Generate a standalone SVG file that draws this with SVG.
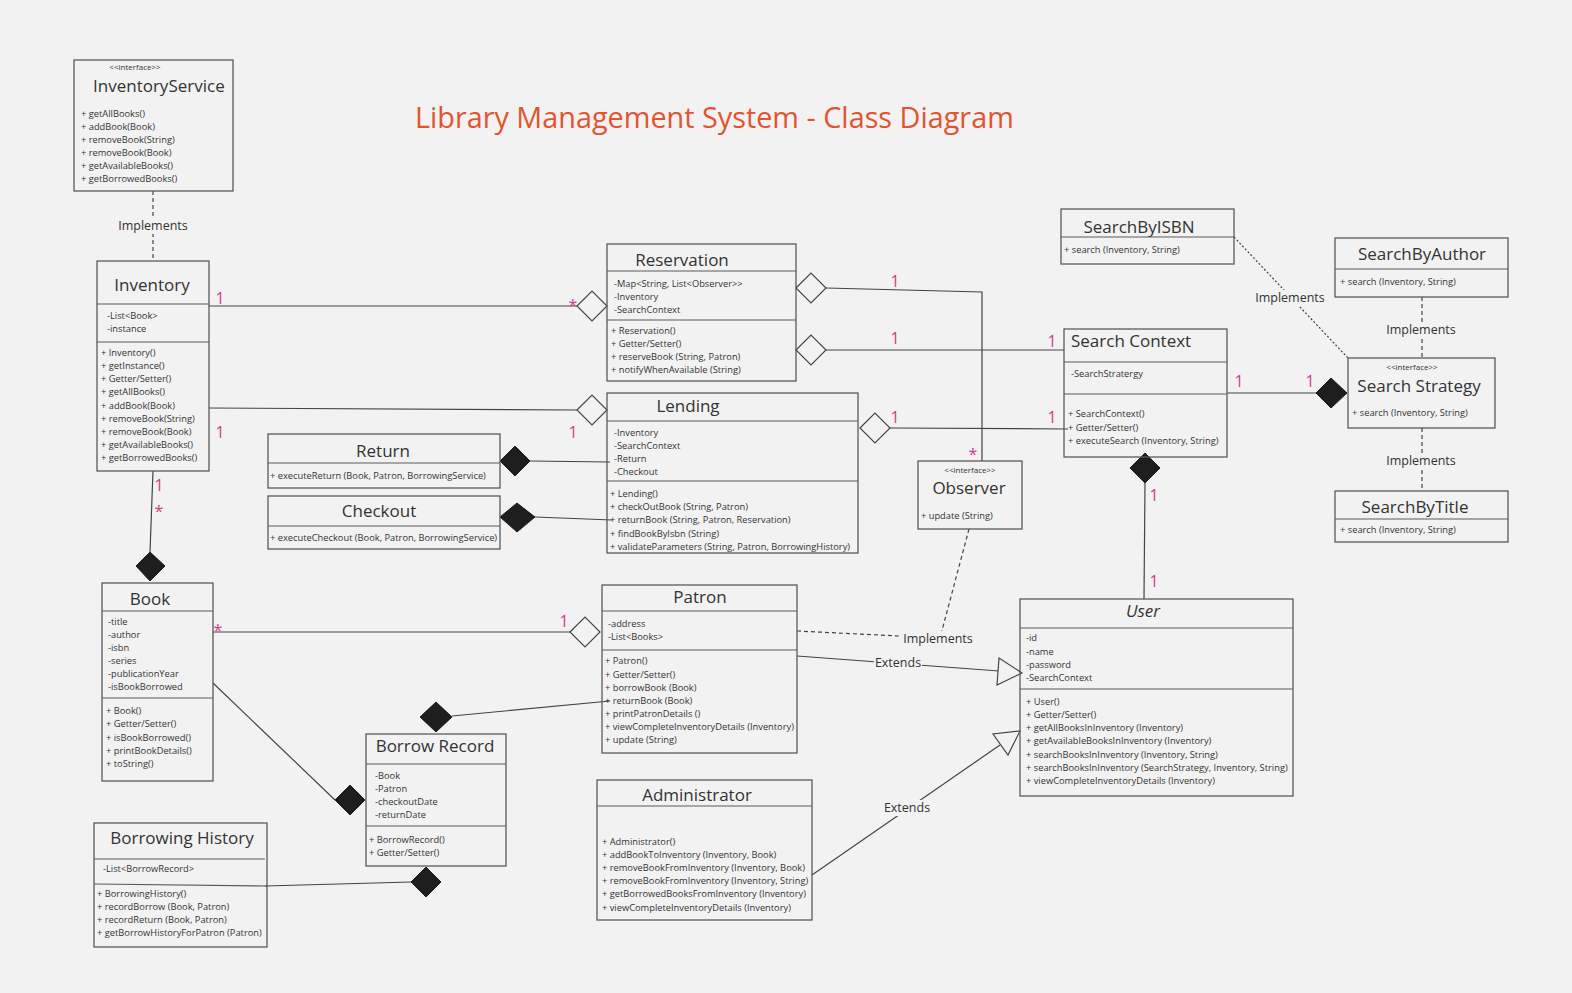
<svg xmlns="http://www.w3.org/2000/svg" width="1572" height="993" viewBox="0 0 1572 993">
<style>
text{font-family:"Open Sans","Liberation Sans",sans-serif;fill:#333}
.bx{fill:none;stroke:#5a5a5a;stroke-width:1.3}
.dv{stroke:#5a5a5a;stroke-width:1.1}
.t{font-size:17px}
.tc{font-size:17px;text-anchor:middle}
.s{font-size:9.3px}
.st{font-size:8px;text-anchor:middle}
.m{font-size:16px;fill:#d4388a;text-anchor:middle}
.lb{font-size:12.5px;text-anchor:middle}
.ln{fill:none;stroke:#444;stroke-width:1.2}
.da{stroke-dasharray:4 3}
.do{stroke-dasharray:2 2}
.hd{fill:#f2f2f2;stroke:#444;stroke-width:1.2}
.fd{fill:#1e1e1e;stroke:#1e1e1e}
.bg{fill:#f2f2f2}
</style>
<rect width="1572" height="993" fill="#f2f2f2"/>
<text x="415" y="128" style="font-size:28.8px;fill:#e4532f">Library Management System - Class Diagram</text>

<g id="connectors">
<path class="ln" d="M209,306 H577"/>
<path class="ln" d="M209,408 L577,410"/>
<path class="ln" d="M153,471 L150,552"/>
<path class="ln" d="M826,288 L982,292 V461"/>
<path class="ln" d="M826,350 H1064"/>
<path class="ln" d="M890,428 L1068,429"/>
<path class="ln" d="M530,461 L610,462"/>
<path class="ln" d="M535,517 L612,520"/>
<path class="ln" d="M213,632 H570"/>
<path class="ln" d="M213,683 L335,800"/>
<path class="ln" d="M452,716 L610,701"/>
<path class="ln" d="M265,886 L411,882"/>
<path class="ln" d="M1227,393 H1316"/>
<path class="ln" d="M1145,483 L1144,599"/>
<path class="ln" d="M797,656 L999,671"/>
<path class="ln" d="M812,875 L1000,745"/>
<path class="ln da" d="M153,191 V261"/>
<path class="ln da" d="M797,631 L940,638 L969,529"/>
<path class="ln do" d="M1234,237 L1348,358"/>
<path class="ln da" d="M1422,297 V358"/>
<path class="ln da" d="M1422,428 V491"/>
<polygon class="hd" points="577,306 592,291 607,306 592,321"/>
<polygon class="hd" points="577,410 592,395 607,410 592,425"/>
<polygon class="fd" points="136,566 150,552 165,566 150,581"/>
<polygon class="hd" points="796,288 811,273 826,288 811,303"/>
<polygon class="hd" points="796,350 811,335 826,350 811,365"/>
<polygon class="hd" points="860,428 875,413 890,428 875,443"/>
<polygon class="fd" points="500,461 515,446 530,461 515,476"/>
<polygon class="fd" points="500,517 517,503 535,517 517,532"/>
<polygon class="hd" points="570,632 585,617 600,632 585,647"/>
<polygon class="fd" points="335,800 350,785 365,800 350,815"/>
<polygon class="fd" points="420,717 436,702 452,717 436,732"/>
<polygon class="fd" points="411,882 426,867 441,882 426,897"/>
<polygon class="fd" points="1316,393 1331,378 1347,393 1331,408"/>
<polygon class="fd" points="1130,468 1145,453 1160,468 1145,483"/>
<polygon class="hd" points="1022,673 999,658 997,685"/>
<polygon class="hd" points="1020,731 993,734 1008,755"/>
<rect class="bg" x="115" y="218" width="76" height="16"/>
<text class="lb" x="153" y="230">Implements</text>
<rect class="bg" x="874" y="655" width="48" height="16"/>
<text class="lb" x="898" y="667">Extends</text>
<rect class="bg" x="883" y="800" width="48" height="16"/>
<text class="lb" x="907" y="812">Extends</text>
<rect class="bg" x="900" y="631" width="76" height="16"/>
<text class="lb" x="938" y="643">Implements</text>
<rect class="bg" x="1252" y="290" width="76" height="16"/>
<text class="lb" x="1290" y="302">Implements</text>
<rect class="bg" x="1383" y="322" width="76" height="16"/>
<text class="lb" x="1421" y="334">Implements</text>
<rect class="bg" x="1383" y="453" width="76" height="16"/>
<text class="lb" x="1421" y="465">Implements</text>
<text class="m" x="220" y="304">1</text>
<text class="m" x="573" y="311">*</text>
<text class="m" x="220" y="438">1</text>
<text class="m" x="573" y="438">1</text>
<text class="m" x="159" y="491">1</text>
<text class="m" x="159" y="517">*</text>
<text class="m" x="895" y="287">1</text>
<text class="m" x="973" y="460">*</text>
<text class="m" x="895" y="344">1</text>
<text class="m" x="1052" y="347">1</text>
<text class="m" x="895" y="423">1</text>
<text class="m" x="1052" y="423">1</text>
<text class="m" x="218" y="636">*</text>
<text class="m" x="564" y="627">1</text>
<text class="m" x="1239" y="387">1</text>
<text class="m" x="1310" y="387">1</text>
<text class="m" x="1154" y="501">1</text>
<text class="m" x="1154" y="587">1</text>
</g>

<g id="InventoryService">
<rect class="bx" x="74" y="60" width="159" height="131"/>
<text class="st" x="135" y="70">&lt;&lt;interface&gt;&gt;</text>
<text class="t" x="93" y="92">InventoryService</text>
<text class="s" x="81" y="117">+ getAllBooks()</text>
<text class="s" x="81" y="130">+ addBook(Book)</text>
<text class="s" x="81" y="143">+ removeBook(String)</text>
<text class="s" x="81" y="156">+ removeBook(Book)</text>
<text class="s" x="81" y="169">+ getAvailableBooks()</text>
<text class="s" x="81" y="182">+ getBorrowedBooks()</text>
</g>

<g id="Inventory">
<rect class="bx" x="97" y="261" width="112" height="210"/>
<text class="tc" x="152" y="291">Inventory</text>
<line class="dv" x1="97" y1="304" x2="209" y2="304"/>
<text class="s" x="107" y="319">-List&lt;Book&gt;</text>
<text class="s" x="107" y="332">-instance</text>
<line class="dv" x1="97" y1="342" x2="209" y2="342"/>
<text class="s" x="101" y="356">+ Inventory()</text>
<text class="s" x="101" y="369">+ getInstance()</text>
<text class="s" x="101" y="382">+ Getter/Setter()</text>
<text class="s" x="101" y="395">+ getAllBooks()</text>
<text class="s" x="101" y="409">+ addBook(Book)</text>
<text class="s" x="101" y="422">+ removeBook(String)</text>
<text class="s" x="101" y="435">+ removeBook(Book)</text>
<text class="s" x="101" y="448">+ getAvailableBooks()</text>
<text class="s" x="101" y="461">+ getBorrowedBooks()</text>
</g>

<g id="Reservation">
<rect class="bx" x="607" y="244" width="189" height="137"/>
<text class="tc" x="682" y="266">Reservation</text>
<line class="dv" x1="607" y1="271" x2="796" y2="271"/>
<text class="s" x="614" y="287">-Map&lt;String, List&lt;Observer&gt;&gt;</text>
<text class="s" x="614" y="300">-Inventory</text>
<text class="s" x="614" y="313">-SearchContext</text>
<line class="dv" x1="607" y1="320" x2="796" y2="320"/>
<text class="s" x="611" y="334">+ Reservation()</text>
<text class="s" x="611" y="347">+ Getter/Setter()</text>
<text class="s" x="611" y="360">+ reserveBook (String, Patron)</text>
<text class="s" x="611" y="373">+ notifyWhenAvailable (String)</text>
</g>

<g id="Lending">
<rect class="bx" x="607" y="393" width="251" height="160"/>
<text class="tc" x="688" y="412">Lending</text>
<line class="dv" x1="607" y1="421" x2="858" y2="421"/>
<text class="s" x="614" y="436">-Inventory</text>
<text class="s" x="614" y="449">-SearchContext</text>
<text class="s" x="614" y="462">-Return</text>
<text class="s" x="614" y="475">-Checkout</text>
<line class="dv" x1="607" y1="481" x2="858" y2="481"/>
<text class="s" x="610" y="497">+ Lending()</text>
<text class="s" x="610" y="510">+ checkOutBook (String, Patron)</text>
<text class="s" x="610" y="523">+ returnBook (String, Patron, Reservation)</text>
<text class="s" x="610" y="537">+ findBookByIsbn (String)</text>
<text class="s" x="610" y="550">+ validateParameters (String, Patron, BorrowingHistory)</text>
</g>

<g id="Return">
<rect class="bx" x="268" y="434" width="232" height="54"/>
<text class="tc" x="383" y="457">Return</text>
<line class="dv" x1="268" y1="463" x2="500" y2="463"/>
<text class="s" x="270" y="479">+ executeReturn (Book, Patron, BorrowingService)</text>
</g>

<g id="Checkout">
<rect class="bx" x="268" y="496" width="232" height="53"/>
<text class="tc" x="379" y="517">Checkout</text>
<line class="dv" x1="268" y1="526" x2="500" y2="526"/>
<text class="s" x="270" y="541">+ executeCheckout (Book, Patron, BorrowingService)</text>
</g>

<g id="Book">
<rect class="bx" x="102" y="583" width="111" height="198"/>
<text class="tc" x="150" y="605">Book</text>
<line class="dv" x1="102" y1="611" x2="213" y2="611"/>
<text class="s" x="108" y="625">-title</text>
<text class="s" x="108" y="638">-author</text>
<text class="s" x="108" y="651">-isbn</text>
<text class="s" x="108" y="664">-series</text>
<text class="s" x="108" y="677">-publicationYear</text>
<text class="s" x="108" y="690">-isBookBorrowed</text>
<line class="dv" x1="102" y1="698" x2="213" y2="698"/>
<text class="s" x="106" y="714">+ Book()</text>
<text class="s" x="106" y="727">+ Getter/Setter()</text>
<text class="s" x="106" y="741">+ isBookBorrowed()</text>
<text class="s" x="106" y="754">+ printBookDetails()</text>
<text class="s" x="106" y="767">+ toString()</text>
</g>

<g id="BorrowRecord">
<rect class="bx" x="366" y="734" width="140" height="132"/>
<text class="tc" x="435" y="752">Borrow Record</text>
<line class="dv" x1="366" y1="764" x2="506" y2="764"/>
<text class="s" x="375" y="779">-Book</text>
<text class="s" x="375" y="792">-Patron</text>
<text class="s" x="375" y="805">-checkoutDate</text>
<text class="s" x="375" y="818">-returnDate</text>
<line class="dv" x1="366" y1="826" x2="506" y2="826"/>
<text class="s" x="369" y="843">+ BorrowRecord()</text>
<text class="s" x="369" y="856">+ Getter/Setter()</text>
</g>

<g id="BorrowingHistory">
<rect class="bx" x="94" y="823" width="173" height="124"/>
<text class="tc" x="182" y="844">Borrowing History</text>
<line class="dv" x1="94" y1="859" x2="265" y2="859"/>
<text class="s" x="103" y="872">-List&lt;BorrowRecord&gt;</text>
<line class="dv" x1="94" y1="884" x2="267" y2="886"/>
<text class="s" x="97" y="897">+ BorrowingHistory()</text>
<text class="s" x="97" y="910">+ recordBorrow (Book, Patron)</text>
<text class="s" x="97" y="923">+ recordReturn (Book, Patron)</text>
<text class="s" x="97" y="936">+ getBorrowHistoryForPatron (Patron)</text>
</g>

<g id="Patron">
<rect class="bx" x="602" y="585" width="195" height="168"/>
<text class="tc" x="700" y="603">Patron</text>
<line class="dv" x1="602" y1="611" x2="797" y2="611"/>
<text class="s" x="608" y="627">-address</text>
<text class="s" x="608" y="640">-List&lt;Books&gt;</text>
<line class="dv" x1="602" y1="650" x2="797" y2="650"/>
<text class="s" x="605" y="664">+ Patron()</text>
<text class="s" x="605" y="678">+ Getter/Setter()</text>
<text class="s" x="605" y="691">+ borrowBook (Book)</text>
<text class="s" x="605" y="704">+ returnBook (Book)</text>
<text class="s" x="605" y="717">+ printPatronDetails ()</text>
<text class="s" x="605" y="730">+ viewCompleteInventoryDetails (Inventory)</text>
<text class="s" x="605" y="743">+ update (String)</text>
</g>

<g id="Administrator">
<rect class="bx" x="597" y="780" width="215" height="140"/>
<text class="tc" x="697" y="801">Administrator</text>
<line class="dv" x1="597" y1="806" x2="812" y2="806"/>
<text class="s" x="602" y="845">+ Administrator()</text>
<text class="s" x="602" y="858">+ addBookToInventory (Inventory, Book)</text>
<text class="s" x="602" y="871">+ removeBookFromInventory (Inventory, Book)</text>
<text class="s" x="602" y="884">+ removeBookFromInventory (Inventory, String)</text>
<text class="s" x="602" y="897">+ getBorrowedBooksFromInventory (Inventory)</text>
<text class="s" x="602" y="911">+ viewCompleteInventoryDetails (Inventory)</text>
</g>

<g id="User">
<rect class="bx" x="1020" y="599" width="273" height="197"/>
<text class="tc" x="1143" y="617" font-style="italic">User</text>
<line class="dv" x1="1020" y1="628" x2="1293" y2="628"/>
<text class="s" x="1026" y="641">-id</text>
<text class="s" x="1026" y="655">-name</text>
<text class="s" x="1026" y="668">-password</text>
<text class="s" x="1026" y="681">-SearchContext</text>
<line class="dv" x1="1020" y1="689" x2="1293" y2="689"/>
<text class="s" x="1026" y="705">+ User()</text>
<text class="s" x="1026" y="718">+ Getter/Setter()</text>
<text class="s" x="1026" y="731">+ getAllBooksInInventory (Inventory)</text>
<text class="s" x="1026" y="744">+ getAvailableBooksInInventory (Inventory)</text>
<text class="s" x="1026" y="758">+ searchBooksInInventory (Inventory, String)</text>
<text class="s" x="1026" y="771">+ searchBooksInInventory (SearchStrategy, Inventory, String)</text>
<text class="s" x="1026" y="784">+ viewCompleteInventoryDetails (Inventory)</text>
</g>

<g id="SearchContext">
<rect class="bx" x="1064" y="329" width="163" height="128"/>
<text class="t" x="1071" y="347">Search Context</text>
<line class="dv" x1="1064" y1="362" x2="1227" y2="362"/>
<text class="s" x="1071" y="377">-SearchStratergy</text>
<line class="dv" x1="1064" y1="394" x2="1227" y2="394"/>
<text class="s" x="1068" y="417">+ SearchContext()</text>
<text class="s" x="1068" y="431">+ Getter/Setter()</text>
<text class="s" x="1068" y="444">+ executeSearch (Inventory, String)</text>
</g>

<g id="Observer">
<rect class="bx" x="918" y="461" width="104" height="68"/>
<text class="st" x="970" y="473">&lt;&lt;interface&gt;&gt;</text>
<text class="tc" x="969" y="494">Observer</text>
<text class="s" x="921" y="519">+ update (String)</text>
</g>

<g id="SearchByISBN">
<rect class="bx" x="1061" y="209" width="173" height="55"/>
<text class="tc" x="1139" y="233">SearchByISBN</text>
<line class="dv" x1="1061" y1="237" x2="1234" y2="237"/>
<text class="s" x="1064" y="253">+ search (Inventory, String)</text>
</g>

<g id="SearchByAuthor">
<rect class="bx" x="1335" y="238" width="173" height="59"/>
<text class="tc" x="1422" y="260">SearchByAuthor</text>
<line class="dv" x1="1335" y1="269" x2="1508" y2="269"/>
<text class="s" x="1340" y="285">+ search (Inventory, String)</text>
</g>

<g id="SearchStrategy">
<rect class="bx" x="1348" y="358" width="147" height="70"/>
<text class="st" x="1412" y="370">&lt;&lt;interface&gt;&gt;</text>
<text class="tc" x="1419" y="392">Search Strategy</text>
<text class="s" x="1352" y="416">+ search (Inventory, String)</text>
</g>

<g id="SearchByTitle">
<rect class="bx" x="1335" y="491" width="173" height="51"/>
<text class="tc" x="1415" y="513">SearchByTitle</text>
<line class="dv" x1="1335" y1="519" x2="1508" y2="519"/>
<text class="s" x="1340" y="533">+ search (Inventory, String)</text>
</g>
</svg>
